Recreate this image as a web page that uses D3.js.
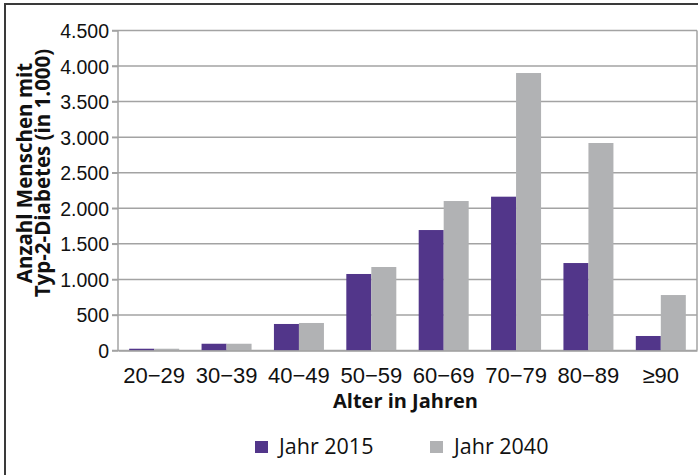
<!DOCTYPE html>
<html>
<head>
<meta charset="utf-8">
<script src="https://cdnjs.cloudflare.com/ajax/libs/d3/7.8.5/d3.min.js"></script>
<style>
  body { margin: 0; background: #fff; }
  svg { display: block; font-family: "Open Sans", sans-serif; }
</style>
</head>
<body>
<div class="chart"></div>
<script>
const width = 698;
const height = 475;

// data (Anzahl in 1.000)
const ageGroups = ["20\u221229", "30\u221239", "40\u221249", "50\u221259", "60\u221269", "70\u221279", "80\u221289", "\u226590"];
const seriesNames = ["Jahr 2015", "Jahr 2040"];
const values2015 = [25, 95, 373, 1076, 1694, 2163, 1230, 204];
const values2040 = [25, 95, 387, 1174, 2102, 3902, 2918, 780];
const yTicks = [0, 500, 1000, 1500, 2000, 2500, 3000, 3500, 4000, 4500];

const colors = ["#52368a", "#b1b2b4"];

const svg = d3.select(".chart")
  .append("svg")
  .attr("width", width)
  .attr("height", height);

// outer frame
svg.append("rect")
  .attr("x", 5).attr("y", 4)
  .attr("width", 720).attr("height", 500)
  .attr("fill", "none")
  .attr("stroke", "#3a3a3a")
  .attr("stroke-width", 2);

const plotL = 118, plotR = 697, plotT = 30.5, plotB = 350.5;

let xScale = d3.scaleBand()
  .domain(ageGroups)
  .range([plotL, plotR])
  .paddingInner(0)
  .paddingOuter(0);

let yScale = d3.scaleLinear()
  .domain([0, 4500])
  .range([plotB, plotT]);

const fmt = d => d === 0 ? "0" : d3.format(",")(d).replace(/,/g, ".");

// gridlines
svg.append("g")
  .selectAll("line")
  .data(yTicks)
  .enter()
  .append("line")
  .attr("x1", plotL - 6)
  .attr("x2", plotR)
  .attr("y1", d => yScale(d))
  .attr("y2", d => yScale(d))
  .attr("stroke", "#a3a3a3")
  .attr("stroke-width", 1.5);

// right border of plot
svg.append("line")
  .attr("x1", plotR).attr("x2", plotR)
  .attr("y1", plotT).attr("y2", plotB)
  .attr("stroke", "#a3a3a3")
  .attr("stroke-width", 1.5);

// bars
const bw = 25;
const groups = [values2015, values2040];
groups.forEach((vals, s) => {
  svg.append("g")
    .selectAll("rect")
    .data(vals)
    .enter()
    .append("rect")
    .attr("x", (d, i) => xScale(ageGroups[i]) + xScale.bandwidth() / 2 - bw + s * bw)
    .attr("y", d => yScale(d))
    .attr("width", bw)
    .attr("height", d => yScale(0) - yScale(d))
    .attr("fill", colors[s]);
});

// y axis
const yAxis = d3.axisLeft(yScale).tickValues(yTicks).tickFormat(fmt).tickSize(6).tickPadding(3);
const ya = svg.append("g")
  .attr("transform", "translate(" + plotL + ",0)")
  .call(yAxis);
ya.select(".domain").attr("stroke", "#a3a3a3").attr("stroke-width", 1.5).attr("d", "M0," + plotT + "V" + plotB);
ya.selectAll(".tick line").attr("stroke", "#a3a3a3").attr("stroke-width", 1.5);
ya.selectAll("text").attr("font-size", 19.5).attr("fill", "#111").attr("dy", "0.36em");

// x axis
const xAxis = d3.axisBottom(xScale).tickSize(0).tickPadding(0);
const xa = svg.append("g")
  .attr("transform", "translate(0," + plotB + ")")
  .call(xAxis);
xa.select(".domain").attr("stroke", "#a3a3a3").attr("stroke-width", 1.5);
xa.selectAll("text").attr("font-size", 22).attr("fill", "#111").attr("y", 32).attr("dy", 0);

// axis titles
svg.append("text")
  .attr("x", (plotL + plotR) / 2 - 2)
  .attr("y", 408)
  .attr("text-anchor", "middle")
  .attr("font-size", 20)
  .attr("font-weight", "bold")
  .attr("fill", "#111")
  .text("Alter in Jahren");

const yt = svg.append("text")
  .attr("transform", "translate(0,173) rotate(-90)")
  .attr("text-anchor", "middle")
  .attr("font-size", 20.5)
  .attr("font-weight", "bold")
  .attr("fill", "#111");
yt.append("tspan").attr("x", 0).attr("y", 32).text("Anzahl Menschen mit");
yt.append("tspan").attr("x", 0).attr("y", 50).text("Typ-2-Diabetes (in 1.000)");

// legend
const legX = [255, 430];
const lg = svg.append("g");
seriesNames.forEach((name, i) => {
  lg.append("rect")
    .attr("x", legX[i]).attr("y", 441)
    .attr("width", 13).attr("height", 12)
    .attr("fill", colors[i]);
  lg.append("text")
    .attr("x", legX[i] + 24).attr("y", 454)
    .attr("font-size", 21.5)
    .attr("fill", "#111")
    .text(name);
});
</script>
</body>
</html>
